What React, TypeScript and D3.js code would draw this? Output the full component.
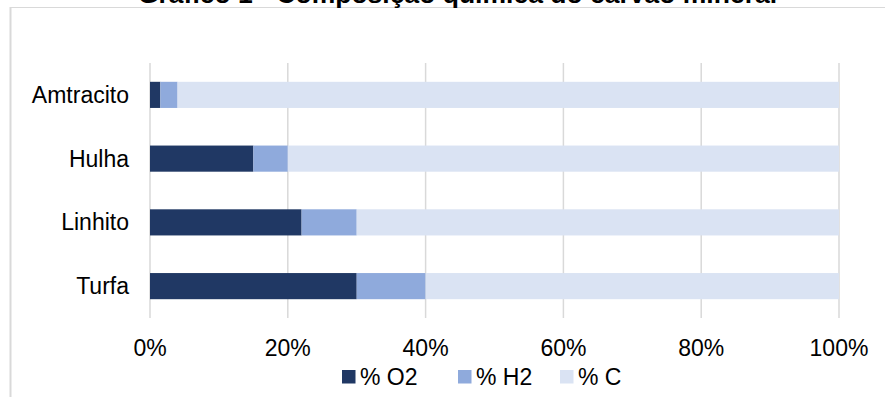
import React from "react";
import * as d3 from "d3";

// Coal types and composition shares (fractions of 1)
const categories = ["Amtracito", "Hulha", "Linhito", "Turfa"];
const seriesKeys = ["O2", "H2", "C"];
const seriesLabels = ["% O2", "% H2", "% C"];
const valuesO2 = [0.015, 0.15, 0.22, 0.3];
const valuesH2 = [0.025, 0.05, 0.08, 0.1];
const valuesC = [0.96, 0.8, 0.7, 0.6];
const tickValues = [0, 0.2, 0.4, 0.6, 0.8, 1];
const title = "Gráfico 1 - Composição química do carvão mineral";

const colors = ["#203864", "#8FAADC", "#DAE3F3"];
const legendX = [342, 458, 560];

const W = 885;
const H = 397;
const FONT = "Arial, 'Liberation Sans', sans-serif";

export default function App() {
  const rows = categories.map((c, i) => ({
    cat: c,
    O2: valuesO2[i],
    H2: valuesH2[i],
    C: valuesC[i],
  }));

  const x = d3.scaleLinear().domain([0, 1]).range([150, 839]);
  const y = d3
    .scaleBand<string>()
    .domain(categories)
    .range([63, 318])
    .paddingInner(0.59)
    .paddingOuter(0.295);

  const stacked = d3.stack<any>().keys(seriesKeys)(rows);
  const fmt = d3.format(".0%");

  return (
    <svg
      width={W}
      height={H}
      style={{ position: "absolute", left: 0, top: 0, background: "#fff" }}
      fontFamily={FONT}
    >
      {/* chart area frame */}
      <line x1={10.5} x2={10.5} y1={7} y2={H} stroke="#D9D9D9" strokeWidth={2} />
      <line x1={10} x2={W} y1={7.5} y2={7.5} stroke="#D9D9D9" strokeWidth={1} />

      {/* title */}
      <text x={457.5} y={3} textAnchor="middle" fontSize={26.5} fontWeight="bold" fill="#000">
        {title}
      </text>

      {/* vertical gridlines */}
      {tickValues.map((t) => (
        <line
          key={t}
          x1={x(t)}
          x2={x(t)}
          y1={63}
          y2={318}
          stroke="#D9D9D9"
          strokeWidth={1.5}
        />
      ))}

      {/* stacked bars */}
      {stacked.map((s, si) => (
        <g key={s.key} fill={colors[si]}>
          {s.map((d, i) => (
            <rect
              key={i}
              x={x(d[0])}
              y={y(categories[i])}
              width={x(d[1]) - x(d[0])}
              height={y.bandwidth()}
            />
          ))}
        </g>
      ))}

      {/* category labels */}
      {categories.map((c) => (
        <text
          key={c}
          x={129}
          y={(y(c) as number) + y.bandwidth() / 2 + 8}
          textAnchor="end"
          fontSize={23}
          fill="#000"
        >
          {c}
        </text>
      ))}

      {/* x tick labels */}
      {tickValues.map((t) => (
        <text key={t} x={x(t)} y={356} textAnchor="middle" fontSize={23} fill="#000">
          {fmt(t)}
        </text>
      ))}

      {/* legend */}
      {seriesLabels.map((l, i) => (
        <g key={l}>
          <rect x={legendX[i]} y={370} width={13.5} height={13.5} fill={colors[i]} />
          <text x={legendX[i] + 18} y={385} fontSize={23} fill="#000">
            {l}
          </text>
        </g>
      ))}
    </svg>
  );
}
